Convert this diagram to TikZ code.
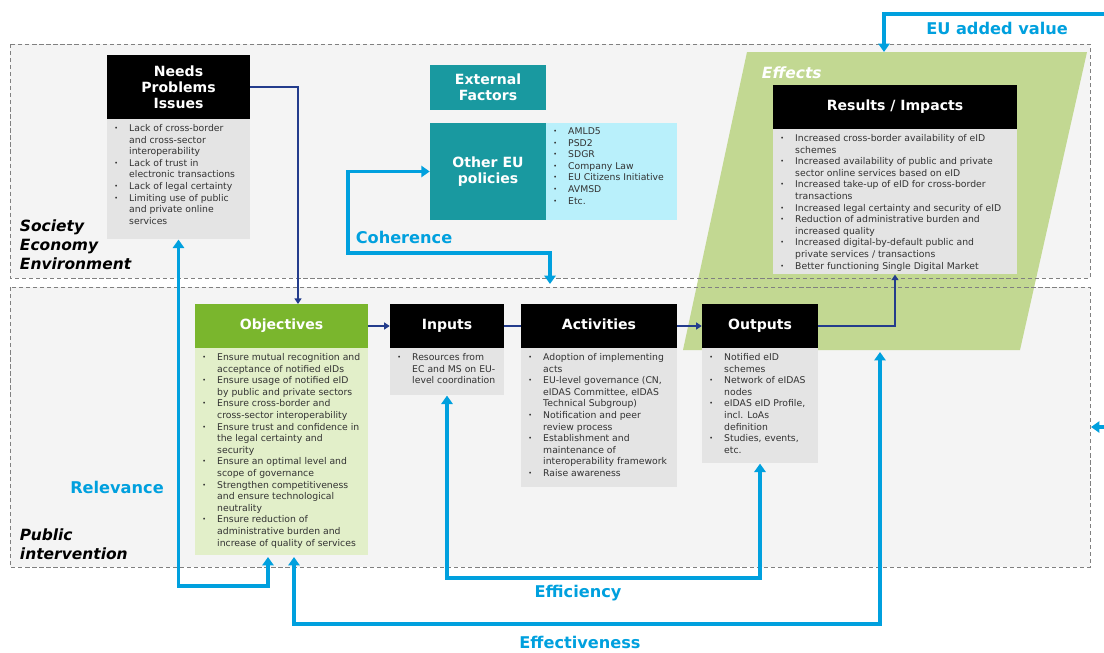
\documentclass[tikz,border=0pt]{standalone}
\usepackage{fontspec}
\setmainfont{DejaVu Sans}
\usetikzlibrary{arrows.meta}
\definecolor{evblue}{RGB}{0,160,222}
\definecolor{evnavy}{RGB}{35,60,140}
\definecolor{evteal}{RGB}{25,153,160}
\definecolor{evcyan}{RGB}{185,240,251}
\definecolor{evgreen}{RGB}{122,182,45}
\definecolor{evlgreen}{RGB}{226,239,201}
\definecolor{evleaf}{RGB}{194,216,146}
\definecolor{evgrey}{RGB}{228,228,228}
\definecolor{evpale}{RGB}{244,244,244}
\definecolor{evtext}{RGB}{50,50,50}
\newcommand{\bl}{\raisebox{0.6pt}{\fontsize{4.5}{4.5}\selectfont\textbullet}}
\newcommand{\blist}[1]{\fontsize{6.6}{8.25}\selectfont\begin{tabular}{@{\hspace{5pt}}p{10.6pt}@{}l@{}}#1\end{tabular}}

\begin{document}
\begin{tikzpicture}[x=0.025cm,y=-0.025cm,
	head/.style={fill=black,text=white,font=\fontsize{10}{11.5}\selectfont\bfseries,align=center,inner sep=0pt},
	headone/.style={head,text height=7.4pt,text depth=2pt},
	body/.style={fill=evgrey,inner sep=0pt,anchor=north},
	list/.style={anchor=north west,inner sep=0pt,text=evtext},
	link/.style={draw=evnavy,line width=1pt,-{Triangle[width=5pt,length=4pt]}},
	crit/.style={draw=evblue,line width=2.2pt,-{Triangle[width=8pt,length=6pt]}},
	critboth/.style={crit,{Triangle[width=8pt,length=6pt]}-{Triangle[width=8pt,length=6pt]}},
	critlabel/.style={text=evblue,font=\fontsize{11.5}{13}\selectfont\bfseries},
	zonelabel/.style={anchor=west,align=left,font=\fontsize{11}{13.5}\selectfont\bfseries\itshape}]
			%%%%% START %%%%%
			\useasboundingbox (0,0) rectangle (1104,652);
			
			% zones
			\fill[evpale] (10,44) rectangle (1090,278);
			\fill[evpale] (10,287) rectangle (1090,567);
			\fill[evleaf] (747,52) -- (1087,52) -- (1020,350) -- (683,350) -- cycle;
			\draw[gray,densely dashed,line width=0.5pt] (10,44) rectangle (1090,278);
			\draw[gray,densely dashed,line width=0.5pt] (10,287) rectangle (1090,567);
			
			\node[zonelabel] (soc) at (15,245) {Society\\Economy\\Environment};
			\node[zonelabel] (pub) at (15,544) {Public\\intervention};
			\node[anchor=west,text=white,font=\fontsize{11}{13}\selectfont\bfseries\itshape] (effects) at (757,73) {Effects};
			
			% needs
			\node[head,minimum width=3.575cm,minimum height=1.6cm] (needs) at (178.5,87) {Needs\\Problems\\Issues};
			\node[body,minimum width=3.575cm,minimum height=3cm] (needsb) at (178.5,119) {};
			\node[list] (needst) at (107,123) {\blist{\bl & Lack of cross-border\\ & and cross-sector\\ & interoperability\\
				\bl & Lack of trust in\\ & electronic transactions\\
				\bl & Lack of legal certainty\\
				\bl & Limiting use of  public\\ & and private online\\ & services}};
			
			% external factors
			\node[head,fill=evteal,minimum width=2.9cm,minimum height=1.125cm] (ext) at (488,87.5) {External\\Factors};
			\node[head,fill=evteal,minimum width=2.9cm,minimum height=2.425cm] (pol) at (488,171.5) {Other EU\\policies};
			\node[body,fill=evcyan,minimum width=3.275cm,minimum height=2.425cm,anchor=center] (polb) at (611.5,171.5) {};
			\node[list] (polt) at (546,126) {\blist{\bl & AMLD5\\ \bl & PSD2\\ \bl & SDGR\\ \bl & Company Law\\
				\bl & EU Citizens Initiative\\ \bl & AVMSD\\ \bl & Etc.}};
			
			% results
			\node[headone,minimum width=6.1cm,minimum height=1.1cm] (res) at (895,107) {Results / Impacts};
			\node[body,minimum width=6.1cm,minimum height=3.625cm] (resb) at (895,129) {};
			\node[list] (rest) at (773,133) {\blist{\bl & Increased cross-border availability of eID\\ & schemes\\
				\bl & Increased availability of public and private\\ & sector online services based on eID\\
				\bl & Increased take-up of eID for cross-border\\ & transactions\\
				\bl & Increased legal certainty and security of eID\\
				\bl & Reduction of administrative burden and\\ & increased quality\\
				\bl & Increased digital-by-default public and\\ & private services / transactions\\
				\bl & Better functioning Single Digital Market}};
			
			% objectives
			\node[headone,fill=evgreen,minimum width=4.325cm,minimum height=1.1cm] (obj) at (281.5,326) {Objectives};
			\node[body,fill=evlgreen,minimum width=4.325cm,minimum height=5.175cm] (objb) at (281.5,348) {};
			\node[list] (objt) at (195,352) {\blist{\bl & Ensure mutual recognition and\\ & acceptance of notified eIDs\\
				\bl & Ensure usage of notified eID\\ & by public and private sectors\\
				\bl & Ensure cross-border and\\ & cross-sector interoperability\\
				\bl & Ensure trust and confidence in\\ & the legal certainty and\\ & security\\
				\bl & Ensure an optimal level and\\ & scope of governance\\
				\bl & Strengthen competitiveness\\ & and ensure technological\\ & neutrality\\
				\bl & Ensure reduction of\\ & administrative burden and\\ & increase of quality of services}};
			
			% inputs
			\node[headone,minimum width=2.85cm,minimum height=1.1cm] (inp) at (447,326) {Inputs};
			\node[body,minimum width=2.85cm,minimum height=1.175cm] (inpb) at (447,348) {};
			\node[list] (inpt) at (390,352) {\blist{\bl & Resources from\\ & EC and MS on EU-\\ & level coordination}};
			
			% activities
			\node[headone,minimum width=3.9cm,minimum height=1.1cm] (act) at (599,326) {Activities};
			\node[body,minimum width=3.9cm,minimum height=3.475cm] (actb) at (599,348) {};
			\node[list] (actt) at (521,352) {\blist{\bl & Adoption of implementing\\ & acts\\
				\bl & EU-level governance (CN,\\ & eIDAS Committee, eIDAS\\ & Technical Subgroup)\\
				\bl & Notification and peer\\ & review process\\
				\bl & Establishment and\\ & maintenance of\\ & interoperability framework\\
				\bl & Raise awareness}};
			
			% outputs
			\node[headone,minimum width=2.9cm,minimum height=1.1cm] (out) at (760,326) {Outputs};
			\node[body,minimum width=2.9cm,minimum height=2.875cm] (outb) at (760,348) {};
			\node[list] (outt) at (702,352) {\blist{\bl & Notified eID\\ & schemes\\
				\bl & Network of eIDAS\\ & nodes\\
				\bl & eIDAS eID Profile,\\ & incl.  LoAs\\ & definition\\
				\bl & Studies, events,\\ & etc.}};
			
			% logic chain
			\coordinate (objin) at (298,304);
			\draw[link] (needs.east) -| (objin);
			\draw[link] (obj.east) -- (inp.west);
			\draw[draw=evnavy,line width=1pt] (inp.east) -- (act.west);
			\draw[link] (act.east) -- (out.west);
			\draw[link] (out.east) -| (resb.south);
			
			% evaluation criteria
			\coordinate (euv) at (1104,14);
			\coordinate (efftop) at (884,52);
			\draw[crit] (euv) -| (efftop);
			\node[critlabel] (euvl) at (997,28) {EU added value};
			
			\coordinate (cohmid) at (348,253);
			\coordinate (cohend) at (550,284);
			\draw[critboth] (pol.west) -| (cohmid) -| (cohend);
			\node[critlabel] (cohl) at (404,237) {Coherence};
			
			\coordinate (relmid) at (220,586);
			\coordinate (relend) at (268,557);
			\draw[critboth] (needsb.south) |- (relmid) -| (relend);
			\node[critlabel] (rell) at (117,487) {Relevance};
			
			\coordinate (ecmid) at (600,578);
			\draw[critboth] (inpb.south) |- (ecmid) -| (outb.south);
			\node[critlabel] (ecl) at (578,593) {Efficiency};
			
			\coordinate (efstart) at (294,557);
			\coordinate (efmid) at (600,624);
			\coordinate (efend) at (880,352);
			\draw[critboth] (efstart) |- (efmid) -| (efend);
			\node[critlabel] (efl) at (580,642) {Effectiveness};
			
			\coordinate (rgt) at (1104,427);
			\draw[crit] (rgt) -- (1091,427);
			%%%%% END %%%%%
\end{tikzpicture}
\end{document}
